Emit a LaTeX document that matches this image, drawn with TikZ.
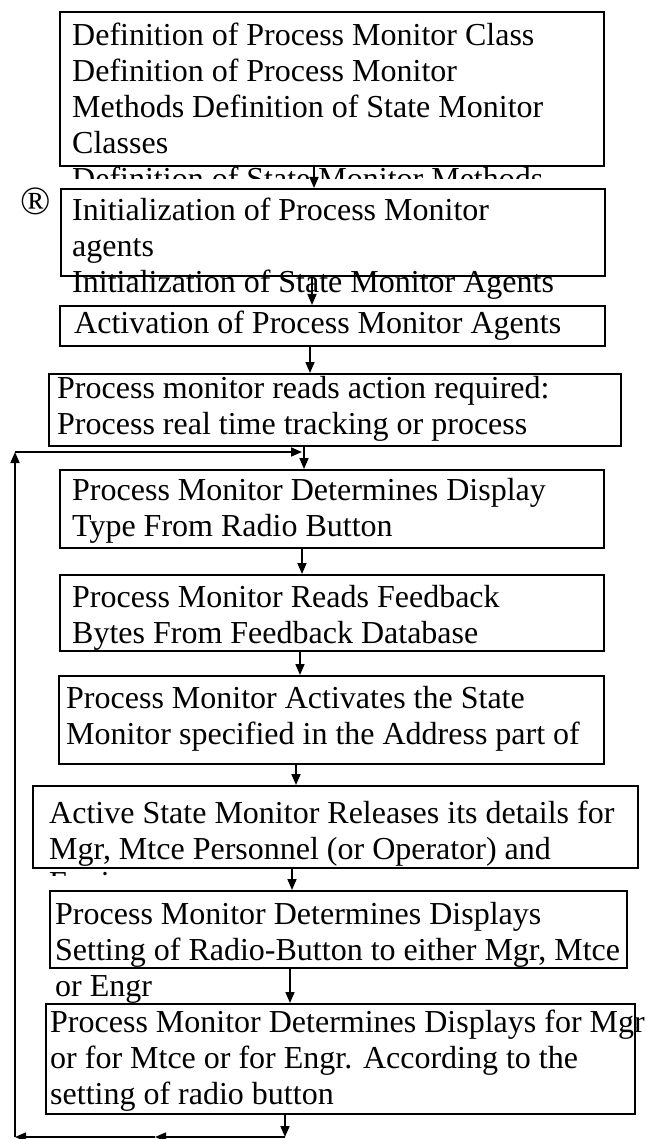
\documentclass[tikz,border=0pt]{standalone}
\usepackage{fontspec}
\setmainfont{Liberation Serif}
\usetikzlibrary{arrows.meta}
\begin{document}
\begin{tikzpicture}[x=1pt,y=-1pt,
  box/.style={draw, line width=1.7pt, fill=white, inner sep=0pt, anchor=north west},
  % multi-line texts are placed by the baseline of their last line
  txt/.style={inner sep=0pt, anchor=base west, align=left,
    font=\fontsize{32}{36}\selectfont},
  arr/.style={line width=1.6pt, -{Triangle[length=11pt,width=9pt]}}]
\useasboundingbox (0,0) rectangle (660,1139);

% process boxes
\node[box, minimum width=544, minimum height=154] (b1) at (59,11) {};
\node[box, minimum width=544, minimum height=87] (b2) at (60,188) {};
\node[box, minimum width=545, minimum height=40] (b3) at (59,305) {};
\node[box, minimum width=572, minimum height=72] (b4) at (48,373) {};
\node[box, minimum width=544, minimum height=78] (b5) at (59,469) {};
\node[box, minimum width=544, minimum height=76] (b6) at (59,574) {};
\node[box, minimum width=545, minimum height=88] (b7) at (58,675) {};
\node[box, minimum width=605, minimum height=82] (b8) at (32,785) {};
\node[box, minimum width=577, minimum height=77] (b9) at (49,890) {};
\node[box, minimum width=589, minimum height=110] (b10) at (45,1003) {};

% box texts
\node[txt] (t1) at (72,154) {Definition of Process Monitor Class\\Definition of Process Monitor\\Methods Definition of State Monitor\\Classes};
\begin{scope}
  \clip (0,166) rectangle (660,179);
  \node[txt] (t1x) at (72,190) {Definition of State Monitor Methods};
\end{scope}
\node[font=\fontsize{40}{40}\selectfont, inner sep=0pt] (reg) at (36,201) {®};
\node[txt] (t2) at (72,293) {Initialization of Process Monitor\\agents\\Initialization of State Monitor Agents};
\node[txt] (t3) at (74,333) {Activation of Process Monitor Agents};
\node[txt] (t4) at (57,434) {Process monitor reads action required:\\Process real time tracking or process};
\node[txt] (t5) at (72,536) {Process Monitor Determines Display\\Type From Radio Button};
\node[txt] (t6) at (72,643) {Process Monitor Reads Feedback\\Bytes From Feedback Database};
\node[txt] (t7) at (66,744) {Process Monitor Activates the State\\Monitor specified in the Address part of};
\node[txt] (t8) at (49,859) {Active State Monitor Releases its details for\\Mgr, Mtce Personnel (or Operator) and};
\begin{scope}
  \clip (0,868) rectangle (660,875);
  \node[txt] (t8x) at (49,893) {Engineers};
\end{scope}
\node[txt] (t9) at (55,996) {Process Monitor Determines Displays\\Setting of Radio-Button to either Mgr, Mtce\\or Engr};
\node[txt] (t10) at (50,1104) {Process Monitor Determines Displays for Mgr\\or for Mtce or for Engr. According to the\\setting of radio button};

% x positions of the vertical connectors
\coordinate (x12) at (314,0);
\coordinate (x23) at (312,0);
\coordinate (x34) at (310,0);
\coordinate (x45) at (304,0);
\coordinate (x56) at (302,0);
\coordinate (x67) at (300,0);
\coordinate (x78) at (296,0);
\coordinate (x89) at (292,0);
\coordinate (x910) at (290,0);
\coordinate (xout) at (285,0);

\draw[arr] (b1.south -| x12) -- (b2.north -| x12);
\draw[arr] (b2.south -| x23) -- (b3.north -| x23);
\draw[arr] (b3.south -| x34) -- (b4.north -| x34);
\draw[arr] (b4.south -| x45) -- (b5.north -| x45);
\draw[arr] (b5.south -| x56) -- (b6.north -| x56);
\draw[arr] (b6.south -| x67) -- (b7.north -| x67);
\draw[arr] (b7.south -| x78) -- (b8.north -| x78);
\draw[arr] (b8.south -| x89) -- (b9.north -| x89);
\draw[arr] (b9.south -| x910) -- (b10.north -| x910);

% return loop
\coordinate (lb) at (285,1137);
\coordinate (lm) at (155,1137);
\coordinate (lc) at (15,1137);
\coordinate (lt) at (15,452);
\coordinate (le) at (302,452);
\draw[arr] (b10.south -| xout) -- (lb);
\draw[arr] (lb) -- (lm);
\draw[arr] (lm) -- (lc);
\draw[arr] (lc) -- (lt);
\draw[arr] (lt) -- (le);
\end{tikzpicture}
\end{document}
